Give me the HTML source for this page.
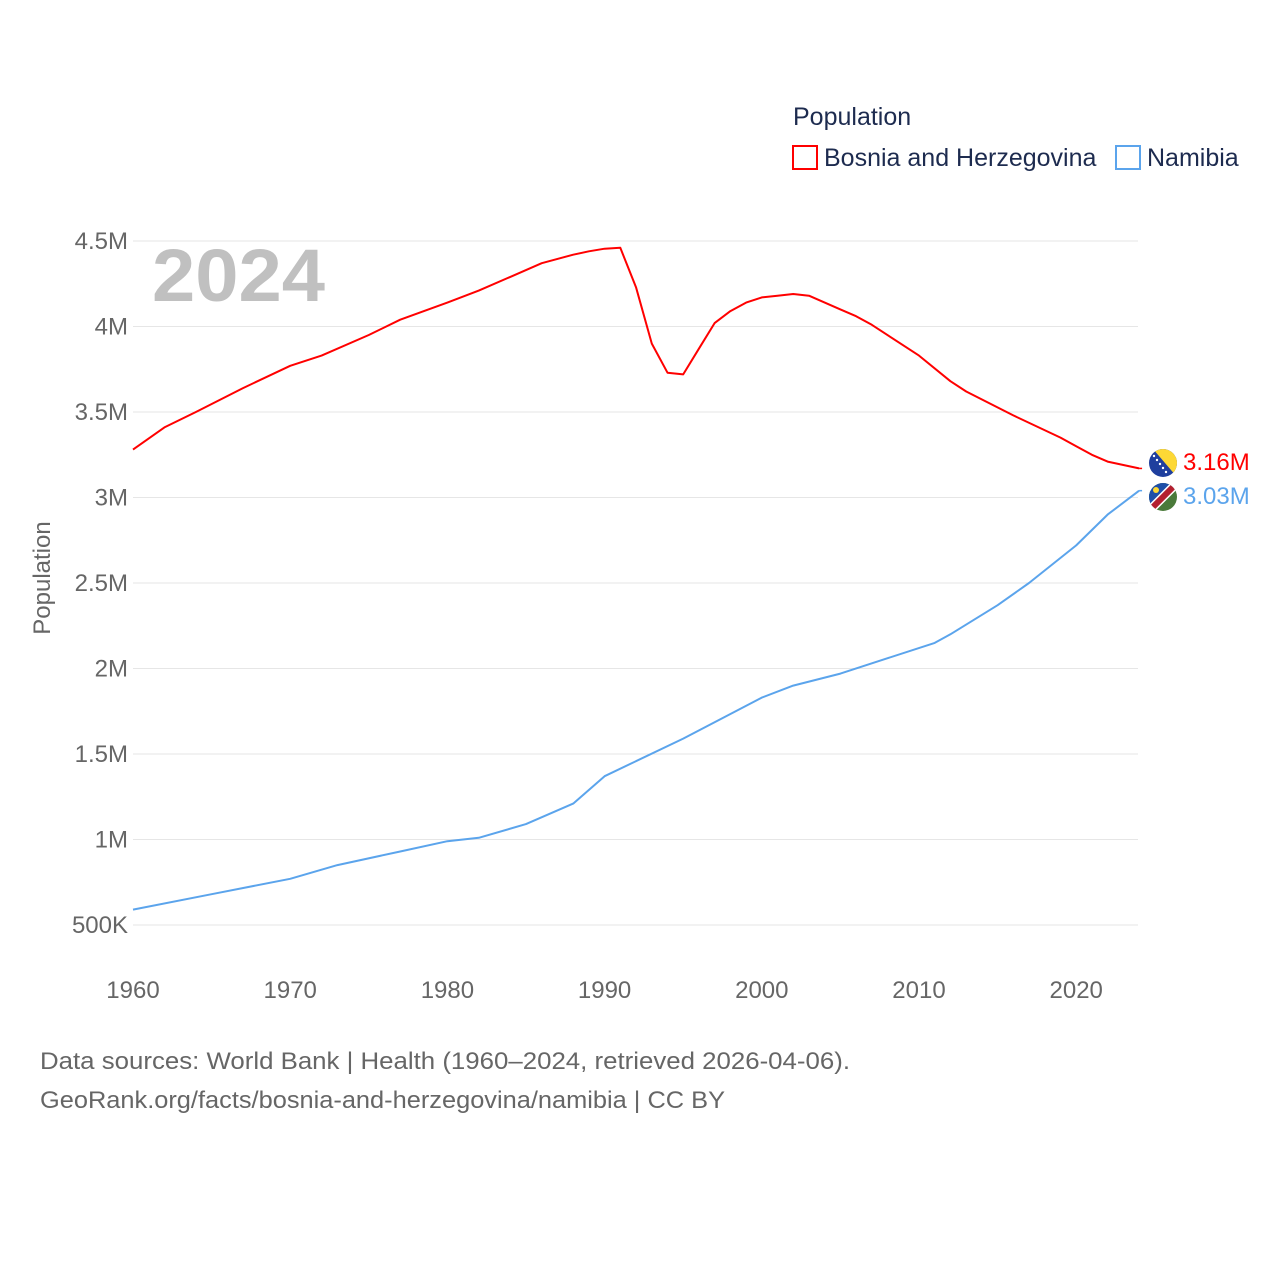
<!DOCTYPE html>
<html><head><meta charset="utf-8">
<style>
body{margin:0;background:#fff;font-family:"Liberation Sans",sans-serif;}
svg text{font-family:"Liberation Sans",sans-serif;}
</style></head>
<body>
<svg id="chart" width="1280" height="1280" xmlns="http://www.w3.org/2000/svg">
<rect width="1280" height="1280" fill="#fff"/>
<g id="grid"></g>
<g id="yticks"></g>
<g id="xticks"></g>
<text x="152" y="301" font-size="74" font-weight="bold" fill="#c0c0c0" textLength="173" lengthAdjust="spacingAndGlyphs">2024</text>
<text transform="translate(50,578) rotate(-90)" text-anchor="middle" font-size="24" fill="#666">Population</text>
<g>
<text x="793" y="125" font-size="25" fill="#1d2b4f">Population</text>
<g><rect x="793" y="146" width="24" height="23" fill="none" stroke="#ff0000" stroke-width="2"/>
<text x="824" y="166" font-size="25" fill="#1d2b4f">Bosnia and Herzegovina</text></g>
<g><rect x="1116" y="146" width="24" height="23" fill="none" stroke="#5ba4ec" stroke-width="2"/>
<text x="1147" y="166" font-size="25" fill="#1d2b4f">Namibia</text></g>
</g>
<g id="series"></g>
<g>
<clipPath id="c1"><circle cx="1163" cy="463" r="14"/></clipPath>
<g clip-path="url(#c1)"><rect x="1149" y="449" width="28" height="28" fill="#1f3f9e"/><polygon points="1153,449 1177,449 1177,477" fill="#fdd835"/>
<g fill="#fff"><circle cx="1154" cy="456" r="1.2"/><circle cx="1157" cy="460" r="1.2"/><circle cx="1160" cy="464" r="1.2"/><circle cx="1163" cy="468" r="1.2"/><circle cx="1166" cy="472" r="1.2"/></g></g></g>
<g>
<clipPath id="c2"><circle cx="1163" cy="497" r="14"/></clipPath>
<g clip-path="url(#c2)"><rect x="1149" y="483" width="28" height="28" fill="#4a7a3a"/><polygon points="1149,483 1177,483 1149,511" fill="#1f4fa8"/>
<line x1="1149" y1="511" x2="1177" y2="483" stroke="#fff" stroke-width="9"/><line x1="1149" y1="511" x2="1177" y2="483" stroke="#b3202f" stroke-width="6"/><circle cx="1156" cy="490" r="3" fill="#fdd835"/></g></g>
<text x="1183" y="470" font-size="24" fill="#ff0000">3.16M</text>
<text x="1183" y="504" font-size="24" fill="#5ba4ec">3.03M</text>
<text x="40" y="1069" font-size="24" fill="#666" textLength="810" lengthAdjust="spacingAndGlyphs">Data sources: World Bank | Health (1960–2024, retrieved 2026-04-06).</text>
<text x="40" y="1108" font-size="24" fill="#666" textLength="685" lengthAdjust="spacingAndGlyphs">GeoRank.org/facts/bosnia-and-herzegovina/namibia | CC BY</text>
</svg>
<script>
const yTicks=[500000,1000000,1500000,2000000,2500000,3000000,3500000,4000000,4500000];
const yTickLabels=["500K","1M","1.5M","2M","2.5M","3M","3.5M","4M","4.5M"];
const xTicks=[1960,1970,1980,1990,2000,2010,2020];
const bosniaYears=[1960,1962,1964,1967,1970,1972,1975,1977,1980,1982,1984,1986,1988,1989,1990,1991,1992,1993,1994,1995,1996,1997,1998,1999,2000,2001,2002,2003,2005,2006,2007,2010,2012,2013,2016,2019,2020,2021,2022,2024];
const bosniaValues=[3.28,3.41,3.50,3.64,3.77,3.83,3.95,4.04,4.14,4.21,4.29,4.37,4.42,4.44,4.455,4.46,4.23,3.90,3.73,3.72,3.87,4.02,4.09,4.14,4.17,4.18,4.19,4.18,4.10,4.06,4.01,3.83,3.68,3.62,3.48,3.35,3.30,3.25,3.21,3.17];
const namibiaYears=[1960,1965,1970,1973,1977,1980,1982,1985,1988,1990,1995,2000,2002,2005,2008,2011,2012,2015,2017,2020,2022,2024];
const namibiaValues=[0.59,0.68,0.77,0.85,0.93,0.99,1.01,1.09,1.21,1.37,1.59,1.83,1.90,1.97,2.06,2.15,2.20,2.37,2.50,2.72,2.90,3.04];
const NS="http://www.w3.org/2000/svg";
const xs=y=>133+(y-1960)*15.72;
const ys=v=>925-(v-500000)/500000*85.5;
const grid=document.getElementById('grid'),yt=document.getElementById('yticks'),xt=document.getElementById('xticks'),ser=document.getElementById('series');
yTicks.forEach((t,i)=>{
 const l=document.createElementNS(NS,'line');
 
 
 l.setAttribute('x1',133);l.setAttribute('x2',1138);l.setAttribute('y1',ys(t));l.setAttribute('y2',ys(t));
 l.setAttribute('stroke','#e6e6e6');l.setAttribute('stroke-width','1');grid.appendChild(l);
 const tx=document.createElementNS(NS,'text');
 
 
 tx.setAttribute('x',128);tx.setAttribute('y',ys(t)+8);tx.setAttribute('text-anchor','end');
 tx.setAttribute('font-size','24');tx.setAttribute('fill','#666');tx.textContent=yTickLabels[i];yt.appendChild(tx);
});
xTicks.forEach(t=>{
 const tx=document.createElementNS(NS,'text');
 
 
 tx.setAttribute('x',xs(t));tx.setAttribute('y',998);tx.setAttribute('text-anchor','middle');
 tx.setAttribute('font-size','24');tx.setAttribute('fill','#666');tx.textContent=t;xt.appendChild(tx);
});
function line(years,vals,color,name){
 const p=document.createElementNS(NS,'path');
 
 
 p.setAttribute('d',years.map((y,i)=>(i?'L':'M')+xs(y).toFixed(1)+','+ys(vals[i]*1e6).toFixed(1)).join(''));
 p.setAttribute('fill','none');p.setAttribute('stroke',color);p.setAttribute('stroke-width','2');p.setAttribute('stroke-linejoin','round');ser.appendChild(p);
 const ly=ys(vals[vals.length-1]*1e6),lx=xs(years[years.length-1]);
 const c=document.createElementNS(NS,'path');
 
 
 c.setAttribute('d','M'+lx+','+ly+'L'+(lx+3)+','+ly);
 c.setAttribute('stroke',color);c.setAttribute('stroke-width','1.5');ser.appendChild(c);
}
line(bosniaYears,bosniaValues,'#ff0000','line-bosnia');
line(namibiaYears,namibiaValues,'#5ba4ec','line-namibia');
</script>
</body></html>
